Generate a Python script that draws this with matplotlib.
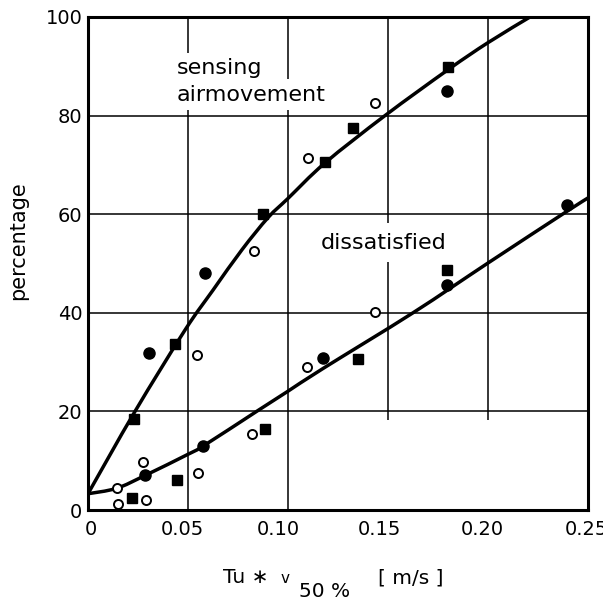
import numpy as np
import matplotlib
matplotlib.use("Agg")
import matplotlib.pyplot as plt
from matplotlib.path import Path
from matplotlib.patches import PathPatch
from matplotlib.transforms import ScaledTranslation

# sensing airmovement - fitted curve
sens_x = [0, 0.0235, 0.0485, 0.0625, 0.077, 0.09, 0.10, 0.1185, 0.1485, 0.18, 0.20, 0.221]
sens_y = [3.3, 20, 36.5, 44.6, 52.8, 59.3, 63.2, 70.4, 80, 89.3, 94.8, 100]
sens_fc_x = [0.0305, 0.0585, 0.1797]
sens_fc_y = [31.8, 48.0, 85.0]
sens_oc_x = [0.0545, 0.0830, 0.110, 0.1435]
sens_oc_y = [31.5, 52.6, 71.5, 82.6]
sens_sq_x = [0.023, 0.0435, 0.0875, 0.1185, 0.1325, 0.180]
sens_sq_y = [18.5, 33.7, 60.1, 70.6, 77.5, 89.9]

# dissatisfied
diss_x = [0, 0.0143, 0.0285, 0.05, 0.0577, 0.0843, 0.10, 0.1175, 0.1625, 0.20, 0.238, 0.25]
diss_y = [3.3, 4.4, 7.0, 11.3, 13.0, 20.0, 24.1, 28.7, 40.0, 50.1, 60.2, 63.3]
diss_fc_x = [0.0285, 0.0577, 0.1173, 0.1793, 0.2393]
diss_fc_y = [7.0, 13.0, 30.8, 45.6, 61.9]
diss_oc_x = [0.0143, 0.0152, 0.0277, 0.029, 0.0552, 0.0818, 0.1093, 0.1435]
diss_oc_y = [4.4, 1.2, 9.8, 2.0, 7.6, 15.4, 29.1, 40.2]
diss_sq_x = [0.0218, 0.0443, 0.0885, 0.1352, 0.1793]
diss_sq_y = [2.4, 6.1, 16.4, 30.6, 48.7]

xticks = [0, 0.05, 0.10, 0.15, 0.20, 0.25]
xticklabels = ["0", "0.05", "0.10", "0.15", "0.20", "0.25"]
yticks = [0, 20, 40, 60, 80, 100]


def smooth_path(xs, ys):
    # bezier segments through the read points (catmull-rom style handles)
    p = np.column_stack([xs, ys]).astype(float)
    verts = [p[0]]
    codes = [Path.MOVETO]
    n = len(p)
    for i in range(n - 1):
        p0 = p[i - 1] if i > 0 else p[i]
        p3 = p[i + 2] if i + 2 < n else p[i + 1]
        c1 = p[i] + (p[i + 1] - p0) / 6
        c2 = p[i + 1] - (p3 - p[i]) / 6
        verts += [c1, c2, p[i + 1]]
        codes += [Path.CURVE4] * 3
    return Path(verts, codes)


fig = plt.figure(figsize=(6.03, 6.02), dpi=100)
ax = fig.add_axes([88/603, 92/602, 500/603, 493/602])
ax.set_xlim(0, 0.25)
ax.set_ylim(0, 100)

# grid drawn by hand (the 0.15 / 0.20 lines stop just under 20 in the original)
for xv in [0.05, 0.10]:
    ax.vlines(xv, 0, 100, color="black", lw=1.1, zorder=1)
for xv in [0.15, 0.20]:
    ax.vlines(xv, 18.3, 100, color="black", lw=1.1, zorder=1)
for yv in [20, 40, 60, 80]:
    ax.hlines(yv, 0, 0.25, color="black", lw=1.1, zorder=1)

for xs, ys in [(sens_x, sens_y), (diss_x, diss_y)]:
    ax.add_patch(PathPatch(smooth_path(xs, ys), facecolor="none", edgecolor="black",
                           lw=2.5, zorder=3, clip_on=True))

for xs, ys in [(sens_fc_x, sens_fc_y), (diss_fc_x, diss_fc_y)]:
    ax.plot(xs, ys, "o", ms=8, color="black", zorder=4)
for xs, ys in [(sens_sq_x, sens_sq_y), (diss_sq_x, diss_sq_y)]:
    ax.plot(xs, ys, "s", ms=7.5, color="black", zorder=4)
for xs, ys in [(sens_oc_x, sens_oc_y), (diss_oc_x, diss_oc_y)]:
    ax.plot(xs, ys, "o", ms=6.5, mfc="white", mec="black", mew=1.4, zorder=4)

box = dict(facecolor="white", edgecolor="none", pad=4)
ax.text(0.0445, 88.4, "sensing", fontsize=16, ha="left", va="baseline", bbox=box, zorder=2)
ax.text(0.0445, 83.0, "airmovement", fontsize=16, ha="left", va="baseline", bbox=box, zorder=2)
ax.text(0.148, 53.0, "dissatisfied", fontsize=16, ha="center", va="baseline",
        bbox=dict(facecolor="white", edgecolor="none", pad=7), zorder=2)

ax.set_xticks(xticks)
ax.set_xticklabels(xticklabels)
ax.set_yticks(yticks)
ax.tick_params(length=0, labelsize=14)
ax.tick_params(axis="x", pad=7)
ax.tick_params(axis="y", pad=4)
# labels in the original sit a little left of their grid lines
shifts = [3, -6, -10, -9, -6, -2]
for lab, dx in zip(ax.get_xticklabels(), shifts):
    lab.set_transform(lab.get_transform() + ScaledTranslation(dx / 100, 0, fig.dpi_scale_trans))
for s in ax.spines.values():
    s.set_linewidth(2.2)

fig.text(18/603, 1 - 241/602, "percentage", fontsize=15, rotation=90, ha="center", va="center")
fig.text(223/603, 1 - 583/602, "Tu \u2217", fontsize=14.5, ha="left", va="baseline")
fig.text(281/603, 1 - 583/602, "v", fontsize=11, ha="left", va="baseline")
fig.text(299/603, 1 - 597/602, "50 %", fontsize=14.5, ha="left", va="baseline")
fig.text(378/603, 1 - 583/602, "[ m/s ]", fontsize=14.5, ha="left", va="baseline")

fig.savefig("out.png", dpi=100)
